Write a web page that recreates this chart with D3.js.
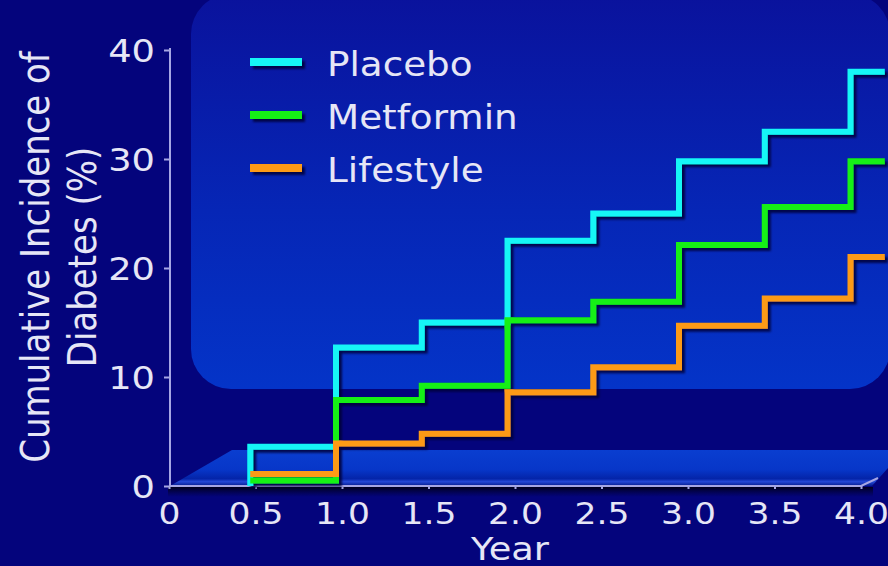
<!DOCTYPE html>
<html>
<head>
<meta charset="utf-8">
<script src="https://cdn.jsdelivr.net/npm/d3@7"></script>
<style>
  html, body { margin: 0; padding: 0; background: #04047c; }
  svg { display: block; }
  text { font-family: "DejaVu Sans", Verdana, sans-serif; fill: #e6e6f6; }
</style>
</head>
<body>
<svg id="chart" width="888" height="566"></svg>
<script>
// Cumulative incidence of diabetes by treatment arm (step curves, evaluated every half year)
const years = [0.5, 1.0, 1.5, 2.0, 2.5, 3.0, 3.5, 4.0];
const endYear = 4.2;
const placebo   = [3.6, 12.7, 15.0, 22.5, 25.0, 29.8, 32.5, 38.0];
const metformin = [0.5, 7.9, 9.2, 15.2, 16.9, 22.1, 25.6, 29.8];
const lifestyle = [1.1, 3.9, 4.8, 8.6, 10.9, 14.7, 17.2, 21.0];
const seriesNames = ["Placebo", "Metformin", "Lifestyle"];
const seriesColors = ["#12f6f6", "#12f012", "#fd9a12"];
const seriesStart = [0, null, null];   // Placebo rises from zero at 0.5 years

const xTicks = [0, 0.5, 1.0, 1.5, 2.0, 2.5, 3.0, 3.5, 4.0];
const xTickLabels = ["0", "0.5", "1.0", "1.5", "2.0", "2.5", "3.0", "3.5", "4.0"];
const yTicks = [0, 10, 20, 30, 40];
const yTickLabels = ["0", "10", "20", "30", "40"];

const STRETCH = 1.15;   // wide lettering used throughout the chart
const svg = d3.select("#chart");
const W = 888, H = 566;

// Scales: axis (front edge) and the data plane behind it
const xAxisScale = d3.scaleLinear().domain([0, 4]).range([169, 861]);
const xPlot = d3.scaleLinear().domain([0, 4]).range([164.5, 850.5]);
const y = d3.scaleLinear().domain([0, 40]).range([486, 50]);

const defs = svg.append("defs");
const panelGrad = defs.append("linearGradient").attr("id", "panelGrad")
  .attr("x1", 0).attr("y1", 0).attr("x2", 0).attr("y2", 1);
panelGrad.append("stop").attr("offset", "0%").attr("stop-color", "#0a129c");
panelGrad.append("stop").attr("offset", "55%").attr("stop-color", "#0626b6");
panelGrad.append("stop").attr("offset", "100%").attr("stop-color", "#0434c8");

const floorGrad = defs.append("linearGradient").attr("id", "floorGrad")
  .attr("x1", 0).attr("y1", 0).attr("x2", 0).attr("y2", 1);
floorGrad.append("stop").attr("offset", "0%").attr("stop-color", "#0a3ed0");
floorGrad.append("stop").attr("offset", "55%").attr("stop-color", "#0736c8");
floorGrad.append("stop").attr("offset", "80%").attr("stop-color", "#0424a8");
floorGrad.append("stop").attr("offset", "88%").attr("stop-color", "#2448d8");
floorGrad.append("stop").attr("offset", "100%").attr("stop-color", "#031a8c");

const shadowGrad = defs.append("linearGradient").attr("id", "shadowGrad")
  .attr("x1", 0).attr("y1", 0).attr("x2", 0).attr("y2", 1);
shadowGrad.append("stop").attr("offset", "0%").attr("stop-color", "#000018").attr("stop-opacity", 0.95);
shadowGrad.append("stop").attr("offset", "100%").attr("stop-color", "#000030").attr("stop-opacity", 0);

const drop = defs.append("filter").attr("id", "drop")
  .attr("filterUnits", "userSpaceOnUse")
  .attr("x", 0).attr("y", 0).attr("width", W).attr("height", H);
drop.append("feDropShadow").attr("dx", 3).attr("dy", 3).attr("stdDeviation", 1.2)
  .attr("flood-color", "#00003a").attr("flood-opacity", 0.85);

const soft = defs.append("filter").attr("id", "soft")
  .attr("filterUnits", "userSpaceOnUse")
  .attr("x", 0).attr("y", 0).attr("width", W).attr("height", H);
soft.append("feGaussianBlur").attr("stdDeviation", 0.5);

// Background
svg.append("rect").attr("width", W).attr("height", H).attr("fill", "#04047c");

// Back wall panel
svg.append("rect")
  .attr("x", 191).attr("y", -6).attr("width", 699).attr("height", 395)
  .attr("rx", 40).attr("ry", 40)
  .attr("fill", "url(#panelGrad)");

// Floor slab
const floorPts = [[170, 486], [232, 450], [888, 450], [888, 468], [872, 486]];
svg.append("path")
  .attr("d", d3.line()(floorPts) + "Z")
  .attr("fill", "url(#floorGrad)");
svg.append("rect").attr("x", 168).attr("y", 487).attr("width", 705).attr("height", 10)
  .attr("fill", "url(#shadowGrad)");

// Axes
const axisColor = "#a6a6e4";
const yAxisG = svg.append("g").attr("transform", `translate(170,0)`)
  .call(d3.axisLeft(y).tickValues(yTicks).tickFormat((d, i) => yTickLabels[i]).tickSize(6).tickSizeOuter(0));
yAxisG.select(".domain").attr("stroke", axisColor).attr("stroke-width", 2)
  .attr("d", `M0,${y(40) - 2}V${y(0) + 1}`);
yAxisG.selectAll(".tick line").attr("stroke", axisColor).attr("stroke-width", 2);
yAxisG.selectAll(".tick text")
  .attr("x", null).attr("dy", null)
  .attr("dominant-baseline", "central")
  .attr("transform", `translate(-15,0) scale(${STRETCH},1)`)
  .style("font-size", "32px").style("font-family", "DejaVu Sans, Verdana, sans-serif")
  .attr("fill", "#e6e6f6");

const xAxisG = svg.append("g").attr("transform", `translate(0,486)`)
  .call(d3.axisBottom(xAxisScale).tickValues(xTicks).tickFormat((d, i) => xTickLabels[i]).tickSize(3).tickSizeOuter(0));
xAxisG.select(".domain").attr("stroke", axisColor).attr("stroke-width", 2)
  .attr("d", `M${xAxisScale(0)},0H${xAxisScale(4)}L${xAxisScale(4) + 17},-8`);
xAxisG.selectAll(".tick line").attr("stroke", axisColor).attr("stroke-width", 2);
xAxisG.selectAll(".tick text")
  .attr("y", null).attr("dy", null)
  .attr("transform", `translate(0,38) scale(${STRETCH},1)`)
  .style("font-size", "30px").style("font-family", "DejaVu Sans, Verdana, sans-serif")
  .attr("fill", "#e6e6f6");
yAxisG.attr("font-family", null).attr("font-size", null);
xAxisG.attr("font-family", null).attr("font-size", null);

// Step curves
const stepLine = d3.line()
  .x(d => xPlot(d[0]))
  .y(d => y(d[1]))
  .curve(d3.curveStepAfter);

const allSeries = [placebo, metformin, lifestyle];
const plotG = svg.append("g").attr("filter", "url(#drop)");
allSeries.forEach((vals, i) => {
  const pts = [];
  if (seriesStart[i] !== null) pts.push([years[0], seriesStart[i]]);
  years.forEach((yr, j) => pts.push([yr, vals[j]]));
  pts.push([endYear, vals[vals.length - 1]]);
  plotG.append("path")
    .attr("d", stepLine(pts))
    .attr("fill", "none")
    .attr("stroke", seriesColors[i])
    .attr("stroke-width", 6)
    .attr("stroke-linejoin", "miter")
    .attr("stroke-linecap", "butt")
    .attr("filter", "url(#soft)");
});

// Legend
const legendG = svg.append("g");
const legendSwatches = legendG.append("g").attr("filter", "url(#drop)");
seriesNames.forEach((name, i) => {
  const ly = 62 + i * 53;
  legendSwatches.append("rect")
    .attr("x", 250).attr("y", ly - 4).attr("width", 52).attr("height", 8)
    .attr("fill", seriesColors[i]);
  legendG.append("text")
    .attr("transform", `translate(327,${ly + 14}) scale(1.13,1)`)
    .style("font-size", "33px")
    .text(name);
});

// Axis titles
svg.append("text")
  .attr("transform", `translate(510,560) scale(${STRETCH},1)`)
  .attr("text-anchor", "middle")
  .style("font-size", "32px")
  .text("Year");

const yTitle = ["Cumulative Incidence of", "Diabetes (%)"];
const yTitleBase = [49, 96];
yTitle.forEach((t, i) => {
  svg.append("text")
    .attr("transform", `translate(${yTitleBase[i]},257) scale(${STRETCH},1) rotate(-90)`)
    .attr("text-anchor", "middle")
    .style("font-size", "34px")
    .text(t);
});
</script>
</body>
</html>
